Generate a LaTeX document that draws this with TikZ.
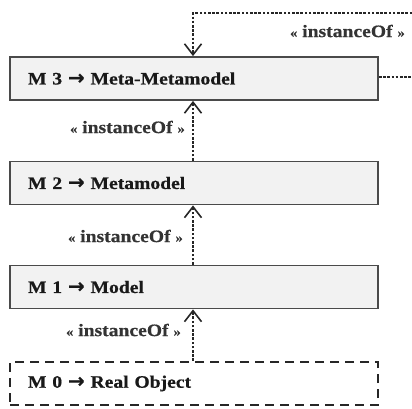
\documentclass[tikz,border=0pt]{standalone}
\usepackage{fontspec}
\setmainfont{Liberation Serif}[FakeStretch=1.12,BoldFeatures={FakeBold=0.6}]
\newfontfamily\arrowfont{DejaVu Sans}[BoldFeatures={FakeBold=0.6}]
\usetikzlibrary{arrows.meta}
\definecolor{boxfill}{HTML}{F2F2F2}
\definecolor{boxline}{HTML}{4A4A4A}
\newcommand{\lvlarrow}{\ {\arrowfont\fontsize{20}{20}\selectfont\bfseries\char"2192}\ }
\newcommand{\stereotype}[1]{{\fontsize{13}{15}\selectfont\guillemotleft}\ #1\ {\fontsize{13}{15}\selectfont\guillemotright}}
\begin{document}
\begin{tikzpicture}[x=1pt,y=-1pt,
  level/.style={draw=boxline,line width=1.8pt,fill=boxfill,
    minimum width=368pt,minimum height=43pt,text width=332pt,
    inner xsep=18pt,align=left,text=black!90,
    font=\fontsize{17.5}{20}\selectfont\bfseries},
  realbox/.style={level,draw=black!85,fill=white,line width=2.2pt,
    dash pattern=on 9pt off 6pt},
  inst/.style={draw=black!85,line width=1.5pt,dash pattern=on 2.6pt off 1.6pt,
    -{Straight Barb[length=11pt,width=17pt,line width=1.6pt]}},
  stereo/.style={font=\fontsize{17.5}{20}\selectfont\bfseries,text=black!80,inner sep=1pt}]
\useasboundingbox (0,0) rectangle (412,408);

\node[level] (m3) at (194,78.5) {M 3\lvlarrow Meta-Metamodel};
\node[level] (m2) at (194,183) {M 2\lvlarrow Metamodel};
\node[level] (m1) at (194,287) {M 1\lvlarrow Model};
\node[realbox] (m0) at (194,383.5) {M 0\lvlarrow Real Object};

\coordinate (loopA) at (416,77);
\coordinate (loopB) at (416,13);
\coordinate (loopC) at (193,13);

\draw[inst] (m2.north -| loopC) -- (m3.south -| loopC);
\draw[inst] (m1.north -| loopC) -- (m2.south -| loopC);
\draw[inst] (m0.north -| loopC) -- (m1.south -| loopC);
\draw[inst] (m3.east |- loopA) -- (loopA) -- (loopB) -- (loopC) -- (m3.north -| loopC);

\node[stereo,anchor=east] (s3) at (406,31) {\stereotype{instanceOf}};
\node[stereo,anchor=east] (s2) at (186,127) {\stereotype{instanceOf}};
\node[stereo,anchor=east] (s1) at (184,236) {\stereotype{instanceOf}};
\node[stereo,anchor=east] (s0) at (182,330) {\stereotype{instanceOf}};
\end{tikzpicture}
\end{document}
